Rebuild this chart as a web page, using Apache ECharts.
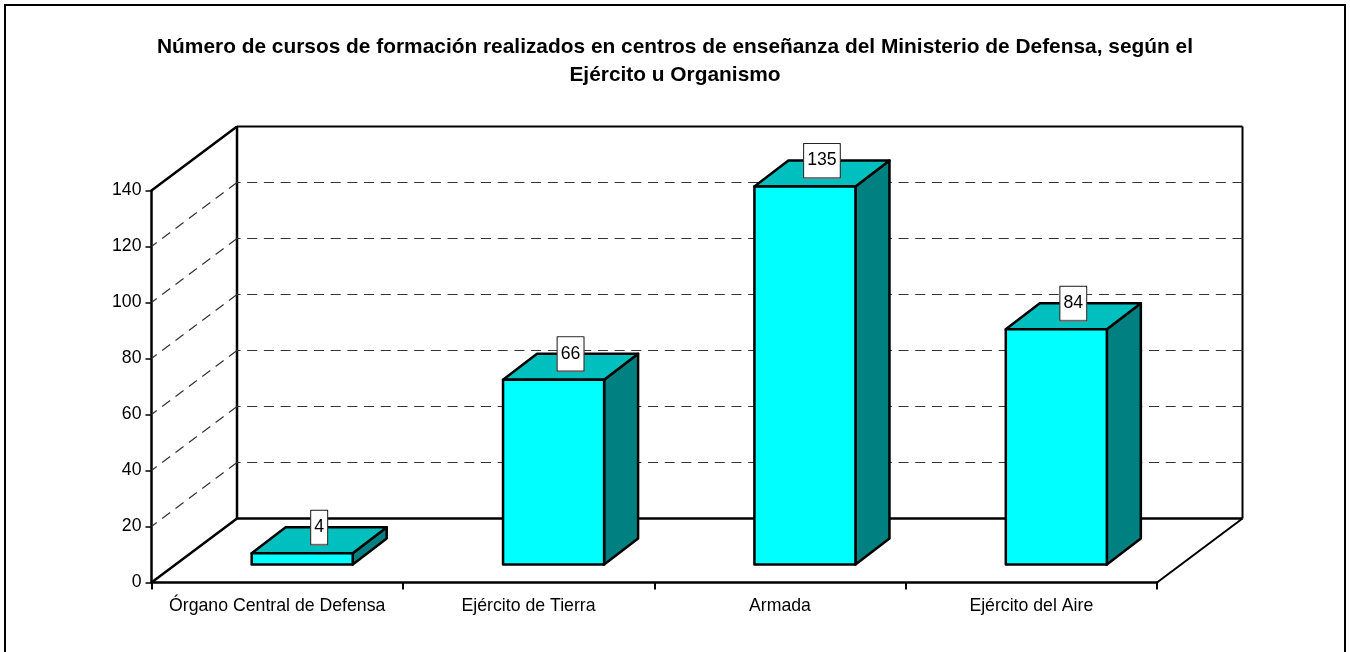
<!DOCTYPE html>
<html><head><meta charset="utf-8">
<style>html,body{margin:0;padding:0;background:#fff}#c{width:1350px;height:652px}</style>
<script src="https://cdn.jsdelivr.net/npm/echarts@6/dist/echarts.min.js"></script>
</head><body><div id="c"></div>
<script>
const categories = ['Órgano Central de Defensa', 'Ejército de Tierra', 'Armada', 'Ejército del Aire'];
const values = [4, 66, 135, 84];
const valueTicks = [0, 20, 40, 60, 80, 100, 120, 140];
const titleText = 'Número de cursos de formación realizados en centros de enseñanza del Ministerio de Defensa, según el\nEjército u Organismo';

const FONT = '"Liberation Sans", Arial, Helvetica, sans-serif';
const WALL = [85.5, -64];
const BAR_SHIFT = [25, -18];
const BAR_DEPTH = [34, -26];
const BAR_RATIO = 0.402;

function line(a, b, width, dash, color) {
  return { type: 'line', shape: { x1: a[0], y1: a[1], x2: b[0], y2: b[1] },
    style: { stroke: color || '#000', lineWidth: width, lineDash: dash || null, lineCap: 'butt' }, silent: true };
}
function wallItem(params, api) {
  const v = api.value(0);
  const cs = params.coordSys;
  const y = api.coord([0, v])[1];
  const L = cs.x, R = cs.x + cs.width;
  const a = [L, y], b = [L + WALL[0], y + WALL[1]], c = [R + WALL[0], y + WALL[1]], d = [R, y];
  const top = v === valueTicks[valueTicks.length - 1];
  const children = [];
  if (v === 0) {
    children.push(line(a, b, 2.5), line(b, c, 2.5), line(d, c, 2));
    const yTop = api.coord([0, valueTicks[valueTicks.length - 1]])[1] + WALL[1];
    children.push(line(b, [b[0], yTop], 2.5), line(c, [c[0], yTop], 2));
  } else if (top) {
    children.push(line(a, b, 2.5), line(b, c, 2));
  } else {
    children.push(line(b, a, 1.2, [10, 6.7], '#333'), line(c, b, 1.2, [10, 6.7], '#333'));
  }
  return { type: 'group', children };
}
function barItem(params, api) {
  const i = api.value(0), v = api.value(1);
  const band = api.size([1, 0])[0];
  const w = band * BAR_RATIO;
  const base = api.coord([i, 0]), tip = api.coord([i, v]);
  const x0 = base[0] + BAR_SHIFT[0] - w / 2, x1 = x0 + w;
  const yb = base[1] + BAR_SHIFT[1], yt = tip[1] + BAR_SHIFT[1];
  const dx = BAR_DEPTH[0], dy = BAR_DEPTH[1];
  const stroke = { stroke: '#000', lineWidth: 2.5, lineJoin: 'round' };
  const poly = (pts, fill) => ({ type: 'polygon', shape: { points: pts }, style: Object.assign({ fill }, stroke), silent: true });
  return { type: 'group', children: [
    poly([[x1, yb], [x1 + dx, yb + dy], [x1 + dx, yt + dy], [x1, yt]], '#008080'),
    poly([[x0, yt], [x0 + dx, yt + dy], [x1 + dx, yt + dy], [x1, yt]], '#00BFBF'),
    poly([[x0, yt], [x1, yt], [x1, yb], [x0, yb]], '#00FFFF')
  ] };
}
function labelItem(params, api) {
  const i = api.value(0), v = api.value(1);
  const base = api.coord([i, 0]), tip = api.coord([i, v]);
  const cx = base[0] + BAR_SHIFT[0] + BAR_DEPTH[0] / 2;
  const cy = tip[1] + BAR_SHIFT[1] + BAR_DEPTH[1];
  return { type: 'text', x: cx, y: cy, silent: true,
    style: { text: String(v), fill: '#000', font: '17.7px ' + FONT, align: 'center', verticalAlign: 'middle',
      backgroundColor: '#fff', borderColor: '#222', borderWidth: 1, padding: [8, 3, 7, 3],
      shadowColor: '#777', shadowOffsetY: 1, shadowBlur: 0 } };
}

const chart = echarts.init(document.getElementById('c'), null, { renderer: 'canvas' });
chart.setOption({
  backgroundColor: '#fff',
  animation: false,
  graphic: [{ type: 'rect', z: -1, silent: true, shape: { x: 5, y: 5, width: 1340, height: 670 },
    style: { fill: 'none', stroke: '#000', lineWidth: 2 } }],
  title: { text: titleText, left: 670, top: 28, textAlign: 'center',
    textStyle: { fontFamily: FONT, fontSize: 20.88, fontWeight: 'bold', color: '#000', lineHeight: 28 } },
  grid: { left: 151.5, top: 190.5, width: 1005.5, height: 392, containLabel: false },
  xAxis: { type: 'category', data: categories, boundaryGap: true,
    axisLine: { show: true, onZero: false, lineStyle: { color: '#000', width: 2.5 } },
    axisTick: { show: true, alignWithLabel: false, length: 7, lineStyle: { color: '#000', width: 2 } },
    axisLabel: { color: '#000', fontFamily: FONT, fontSize: 17.7, margin: 15, interval: 0 },
    splitLine: { show: false } },
  yAxis: { type: 'value', min: 0, max: 140, interval: 20,
    axisLine: { show: true, lineStyle: { color: '#000', width: 2.5 } },
    axisTick: { show: true, length: 6, lineStyle: { color: '#000', width: 1.5 } },
    axisLabel: { color: '#000', fontFamily: FONT, fontSize: 17.7, margin: 10, padding: [6, 0, 0, 0] },
    splitLine: { show: false } },
  series: [
    { type: 'custom', name: 'walls', coordinateSystem: 'cartesian2d', z: 1, silent: true, clip: false,
      data: valueTicks.map(v => [v]), encode: { y: 0 }, renderItem: wallItem },
    { type: 'custom', name: 'Cursos', coordinateSystem: 'cartesian2d', z: 3, silent: true, clip: false,
      data: values.map((v, i) => [i, v]), encode: { x: 0, y: 1 }, renderItem: barItem },
    { type: 'custom', name: 'labels', coordinateSystem: 'cartesian2d', z: 4, silent: true, clip: false,
      data: values.map((v, i) => [i, v]), encode: { x: 0, y: 1 }, renderItem: labelItem }
  ]
});
</script></body></html>
